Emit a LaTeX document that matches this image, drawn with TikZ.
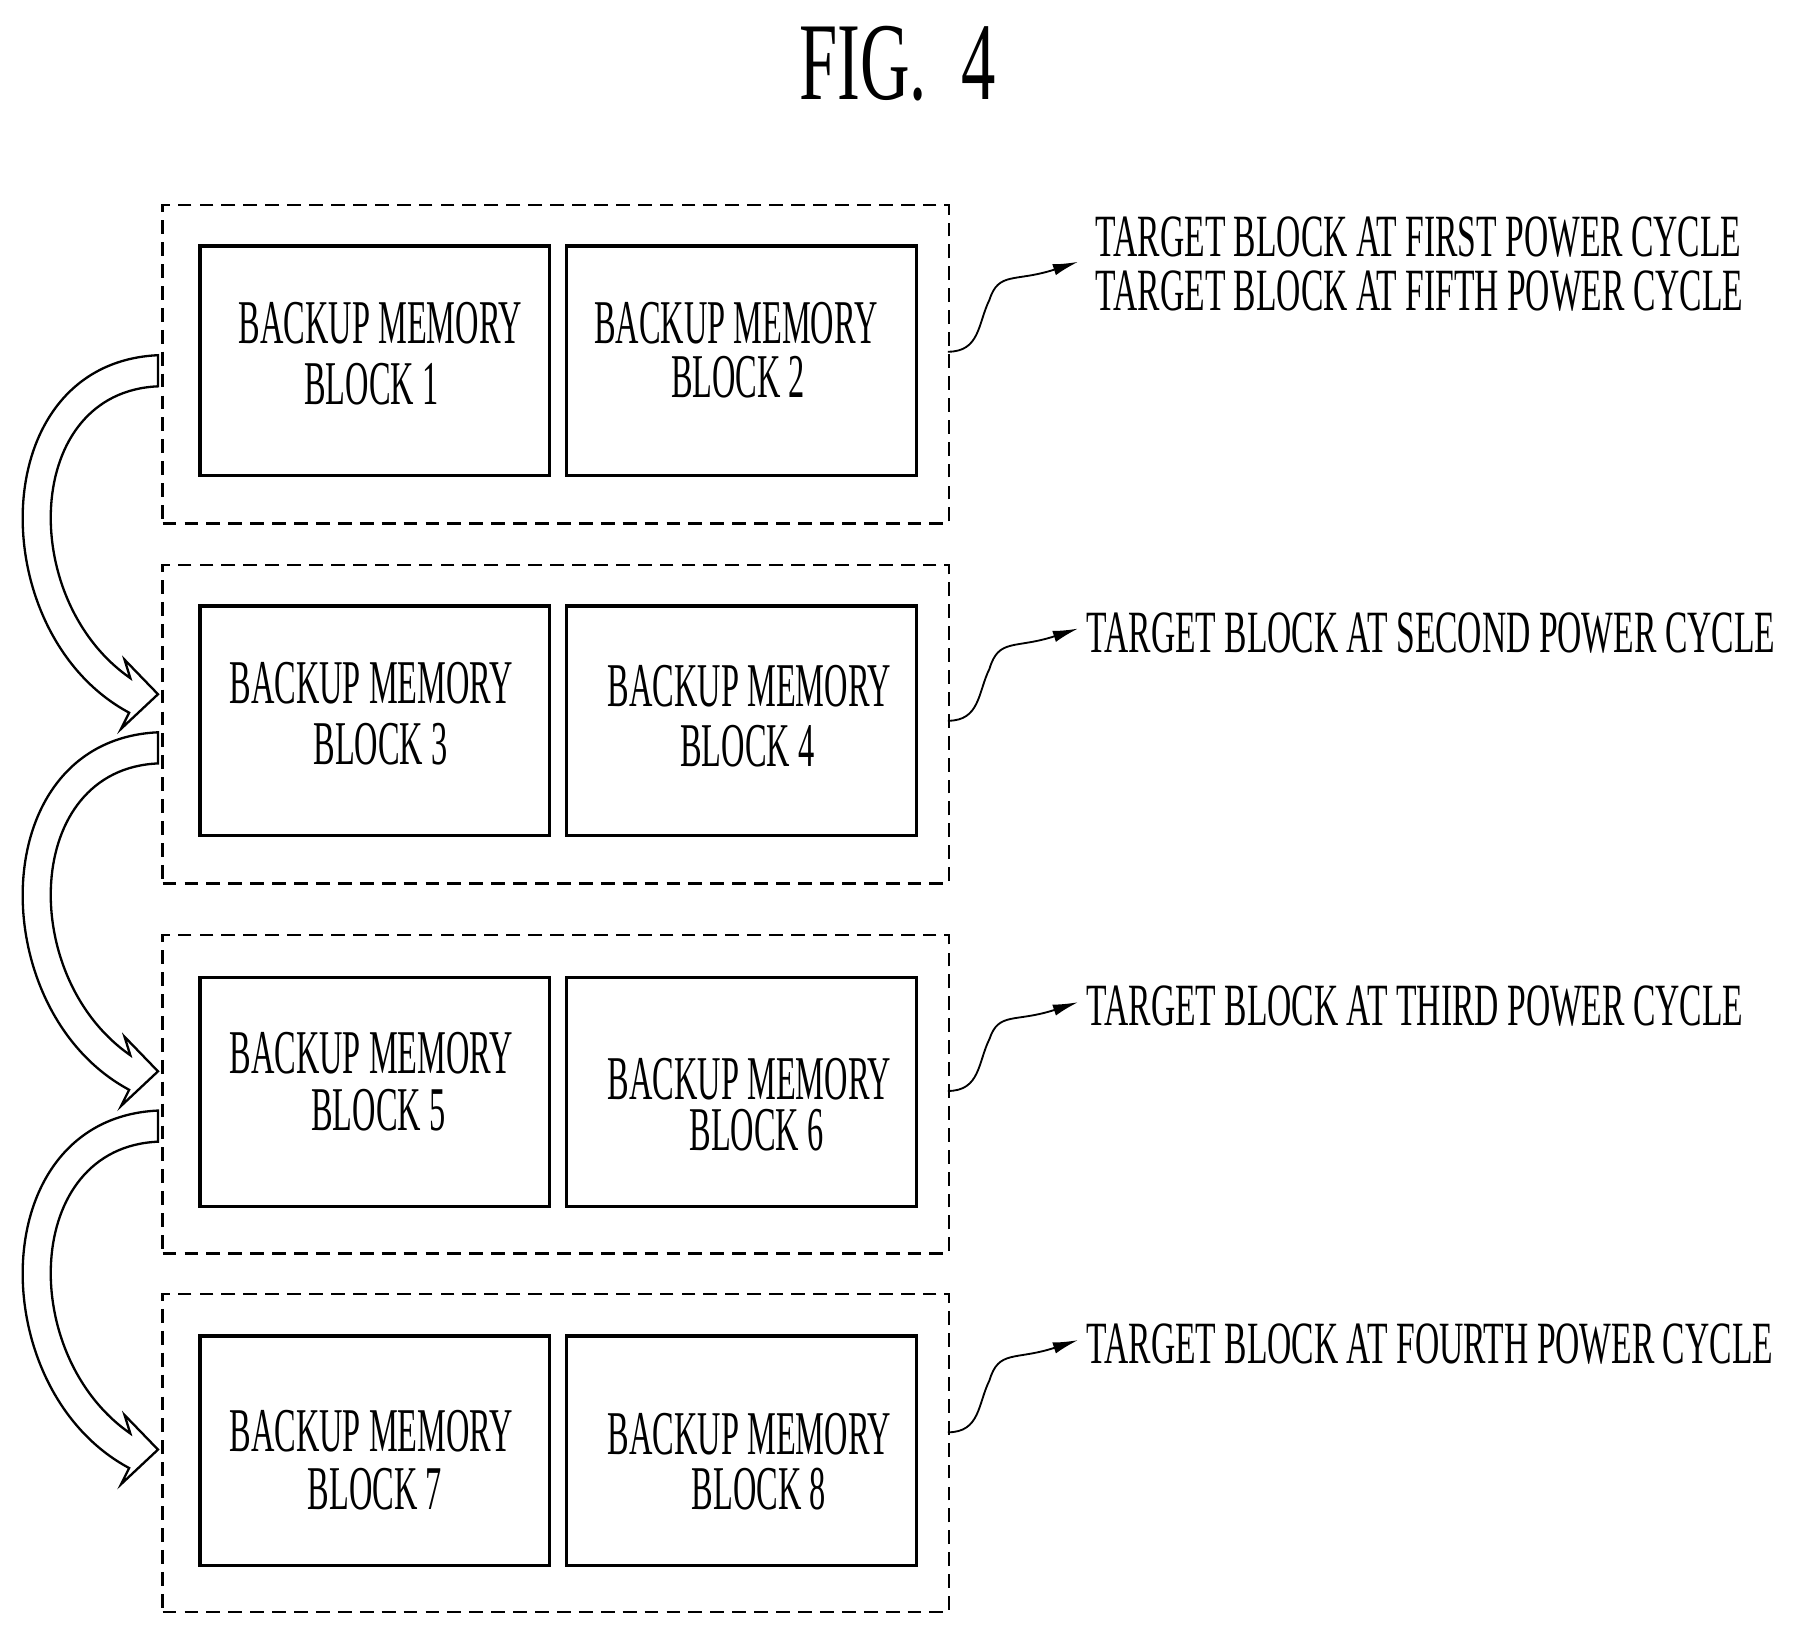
\documentclass[tikz,border=0pt]{standalone}
\usepackage{fontspec}
\setmainfont{Liberation Serif}
\usepackage{graphicx}
\begin{document}
\begin{tikzpicture}[x=1pt,y=-1pt,
  blk/.style={draw,line width=2.8pt,minimum width=303pt,minimum height=199pt,anchor=north west,inner sep=0},
  grp/.style={draw,line width=2pt,dash pattern=on 12pt off 7pt,minimum width=682pt,minimum height=276pt,anchor=north west,inner sep=0},
  txt/.style={font=\fontsize{54}{54}\selectfont,inner sep=0,text height=36pt,text depth=0pt},
  lbl/.style={font=\fontsize{52}{52}\selectfont,inner sep=0,anchor=west,text height=35pt,text depth=0pt},
  lead/.style={line width=1.6pt,-{Latex[length=22pt,width=10pt]}},
  hollow/.style={draw,line width=2pt,fill=white,line join=miter}]
\usetikzlibrary{arrows.meta}
\useasboundingbox (0,0) rectangle (1560,1409);
\node[font=\fontsize{96}{96}\selectfont,inner sep=0] (title) at (778,55) {\scalebox{0.62}[1]{FIG.\,\,\,4}};
\foreach \i/\y in {1/177,2/489,3/810,4/1121}{
  \node[grp] (g\i) at (140,\y) {};
}
\node[blk] (b1) at (172,212) {}; \node[blk] (b2) at (490,212) {};
\node[blk] (b3) at (172,524) {}; \node[blk] (b4) at (490,524) {};
\node[blk] (b5) at (172,846) {}; \node[blk] (b6) at (490,846) {};
\node[blk] (b7) at (172,1157) {}; \node[blk] (b8) at (490,1157) {};
\newcommand{\bm}[5]{\node[txt] (#1a) at (#2,#3) {\scalebox{0.52}[1]{BACKUP MEMORY}};
  \node[txt] (#1b) at (#4,#5) {\scalebox{0.52}[1]{BLOCK \csname tn#1\endcsname}};}
\def\tnA{1}\def\tnB{2}\def\tnC{3}\def\tnD{4}\def\tnE{5}\def\tnF{6}\def\tnG{7}\def\tnH{8}
\bm{A}{330}{280}{322}{333}
\bm{B}{638}{280}{640}{327}
\bm{C}{322}{592}{330}{645}
\bm{D}{650}{595}{648}{647}
\bm{E}{322}{913}{328}{962}
\bm{F}{650}{935}{656}{980}
\bm{G}{322}{1241}{325}{1291}
\bm{H}{650}{1243}{658}{1291}
\node[lbl] (l1) at (950,205) {\scalebox{0.56}[1]{TARGET BLOCK AT FIRST POWER CYCLE}};
\node[lbl] (l1b) at (950,252) {\scalebox{0.56}[1]{TARGET BLOCK AT FIFTH POWER CYCLE}};
\node[lbl] (l2) at (942,548) {\scalebox{0.56}[1]{TARGET BLOCK AT SECOND POWER CYCLE}};
\node[lbl] (l3) at (942,872) {\scalebox{0.56}[1]{TARGET BLOCK AT THIRD POWER CYCLE}};
\node[lbl] (l4) at (942,1165) {\scalebox{0.56}[1]{TARGET BLOCK AT FOURTH POWER CYCLE}};
\foreach \y/\t in {305/230,625/548,946/872,1242/1165}{
  \draw[lead] (822,\y) .. controls (850,\y) and (848,\y-25) .. (858,\y-45)
     .. controls (866,\t+5) and (880,\t+15) .. (935,\t-3);
}
\foreach \s in {0,327,655}{
\begin{scope}[yshift=-\s pt]
\draw[hollow] (137,308) .. controls (-15,315) and (-15,550) .. (112,618)
  -- (105,632) -- (137,602) -- (108,572) -- (113,588)
  .. controls (15,520) and (20,340) .. (137,335) -- cycle;
\end{scope}}
\end{tikzpicture}
\end{document}
